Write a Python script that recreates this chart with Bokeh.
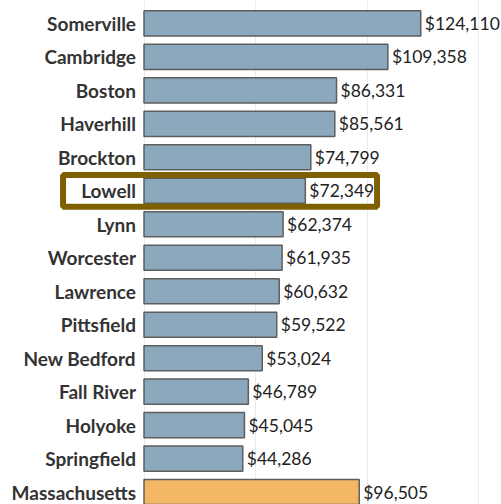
from bokeh.plotting import figure
from bokeh.models import ColumnDataSource, Range1d, FixedTicker
from bokeh.core.properties import value
from bokeh.embed import file_html
from bokeh.resources import INLINE

cities = ["Somerville", "Cambridge", "Boston", "Haverhill", "Brockton", "Lowell",
          "Lynn", "Worcester", "Lawrence", "Pittsfield", "New Bedford", "Fall River",
          "Holyoke", "Springfield", "Massachusetts"]
incomes = [124110, 109358, 86331, 85561, 74799, 72349, 62374, 61935, 60632,
           59522, 53024, 46789, 45045, 44286, 96505]
highlight = "Lowell"
state = "Massachusetts"

BLUE = "#8CA8BD"
ORANGE = "#F4B765"
n = len(cities)
ys = [n - 1 - i for i in range(n)]
colors = [ORANGE if c == state else BLUE for c in cities]
labels = ["${:,}".format(v) for v in incomes]

src = ColumnDataSource(dict(city=cities, income=incomes, y=ys, color=colors,
                            label=labels, zero=[0] * n))

p = figure(width=501, height=504, output_backend="svg", toolbar_location=None,
           x_range=Range1d(-64350, 160310), y_range=Range1d(-0.37, 14.684),
           min_border_left=0, min_border_right=0, min_border_top=0, min_border_bottom=0)
p.xaxis.visible = False
p.yaxis.visible = False
p.outline_line_color = None
p.ygrid.grid_line_color = None
p.xgrid.ticker = FixedTicker(ticks=[0, 50000, 100000, 150000])
p.xgrid.grid_line_color = "#EBEBEB"
p.xgrid.grid_line_width = 1

p.hbar(y="y", left="zero", right="income", height=0.75, fill_color="color",
       line_color="#5E5E5E", line_width=1.5, source=src)

p.text(x="zero", y="y", text="city", x_offset=-8, text_align="right",
       text_baseline="middle", text_font=value("Lato"), text_font_style="bold",
       text_font_size="19px", text_color="#333333", source=src)
p.text(x="income", y="y", text="label", x_offset=4, text_align="left",
       text_baseline="middle", text_font=value("Lato"),
       text_font_size="17.5px", text_color="#222222", source=src)

# highlight box around the focus city row
hi = cities.index(highlight)
hy = ys[hi]
p.quad(left=[-36300], right=[104500], bottom=[hy - 0.48], top=[hy + 0.47],
       fill_color=None, line_color="#7F6000", line_width=6)

open("out.html", "w").write(file_html(p, INLINE))
